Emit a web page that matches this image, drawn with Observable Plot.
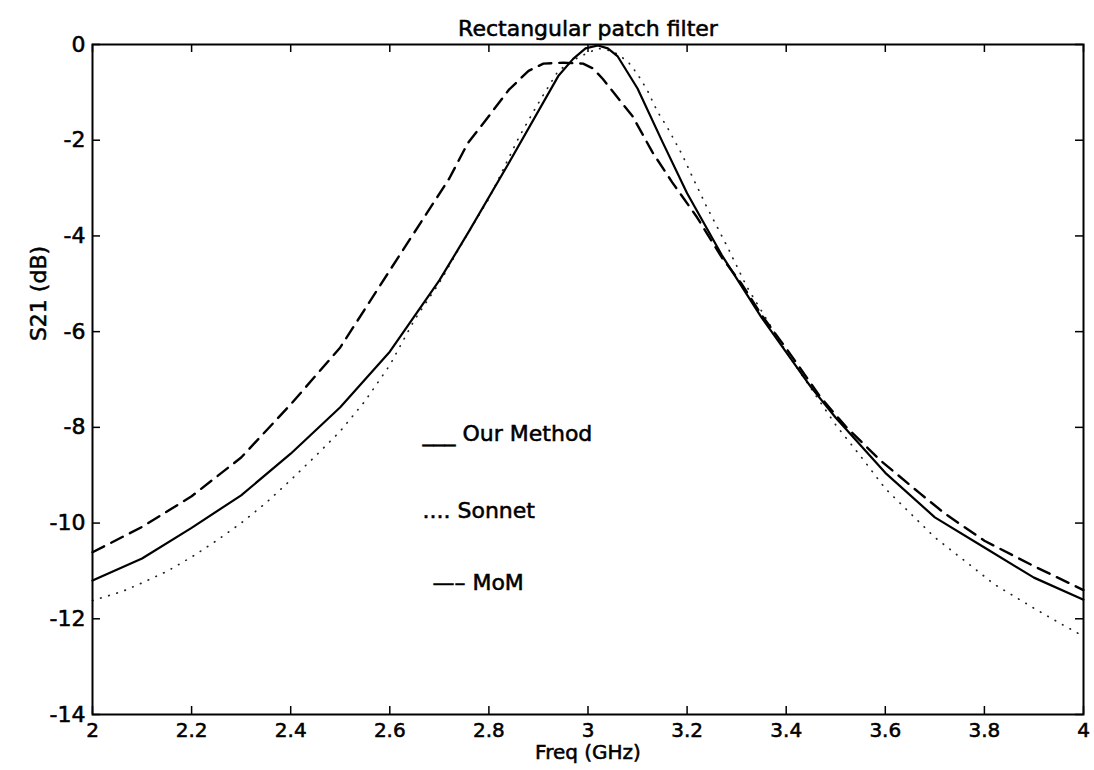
<!DOCTYPE html>
<html><head><meta charset="utf-8">
<script src="https://cdn.jsdelivr.net/npm/d3@7"></script>
<script src="https://cdn.jsdelivr.net/npm/@observablehq/plot@0.6"></script>
<style>
body{margin:0;background:#fff;}
#chart svg text{stroke:#000;stroke-width:0.55px;}
</style></head><body><div id="chart"></div>
<script>
// Our Method (solid)
const ourFreq = [2.0,2.1,2.2,2.3,2.4,2.5,2.6,2.7,2.76,2.84,2.94,2.97,2.995,3.02,3.04,3.06,3.1,3.15,3.2,3.27,3.35,3.45,3.5,3.6,3.7,3.8,3.9,4.0];
const ourS21  = [-11.2,-10.74,-10.1,-9.42,-8.55,-7.58,-6.42,-4.93,-3.9,-2.48,-0.66,-0.3,-0.08,-0.02,-0.08,-0.25,-0.92,-2.03,-3.11,-4.4,-5.7,-7.16,-7.8,-8.95,-9.88,-10.51,-11.14,-11.6];
// Sonnet (dotted)
const sonFreq = [2.0,2.06,2.1,2.15,2.2,2.25,2.3,2.35,2.4,2.45,2.5,2.55,2.6,2.65,2.7,2.75,2.8,2.86,2.89,2.91,2.94,2.98,3.02,3.05,3.08,3.1,3.12,3.14,3.16,3.19,3.21,3.24,3.28,3.32,3.4,3.5,3.55,3.6,3.7,3.78,3.82,3.9,3.94,3.99];
const sonS21  = [-11.62,-11.43,-11.25,-11.01,-10.71,-10.37,-10.0,-9.58,-9.1,-8.6,-8.08,-7.45,-6.7,-5.75,-4.98,-4.08,-3.22,-1.95,-1.4,-1.05,-0.55,-0.27,-0.08,-0.14,-0.35,-0.62,-0.96,-1.4,-1.73,-2.3,-2.75,-3.4,-4.2,-5.05,-6.42,-7.95,-8.6,-9.28,-10.3,-10.95,-11.28,-11.78,-12.02,-12.31];
// MoM (dashed)
const momFreq = [2.0,2.1,2.2,2.3,2.4,2.5,2.6,2.67,2.72,2.757,2.79,2.84,2.88,2.91,2.95,2.99,3.01,3.03,3.09,3.13,3.17,3.22,3.27,3.31,3.35,3.4,3.47,3.52,3.59,3.67,3.72,3.8,3.9,4.0];
const momS21  = [-10.61,-10.08,-9.44,-8.63,-7.52,-6.33,-4.72,-3.6,-2.8,-2.07,-1.63,-0.95,-0.55,-0.4,-0.38,-0.4,-0.5,-0.72,-1.5,-2.25,-2.88,-3.61,-4.45,-5.0,-5.65,-6.35,-7.38,-7.98,-8.69,-9.38,-9.8,-10.37,-10.9,-11.4];

const xTicks = [2,2.2,2.4,2.6,2.8,3,3.2,3.4,3.6,3.8,4];
const yTicks = [0,-2,-4,-6,-8,-10,-12,-14];

const legendLabels = ["___ Our Method", ".... Sonnet", "\u2014\u2013 MoM"];
const legendFreq = [2.666, 2.666, 2.686];
const legendS21 = [-8.13, -9.74, -11.26];

const title = "Rectangular patch filter";
const xLabel = "Freq (GHz)";
const yLabel = "S21 (dB)";

const toRows = (fs, vs) => fs.map((f, i) => ({f, v: vs[i]}));
const ours = toRows(ourFreq, ourS21);
const sonnet = toRows(sonFreq, sonS21);
const mom = toRows(momFreq, momS21);
const legend = legendLabels.map((t, i) => ({t, f: legendFreq[i], v: legendS21[i]}));

const chart = Plot.plot({
  width: 1094, height: 770,
  marginLeft: 92, marginRight: 11, marginTop: 44, marginBottom: 56,
  x: {domain: [2, 4]},
  y: {domain: [-14, 0]},
  style: {fontFamily: "'DejaVu Sans'", fontSize: "22px", color: "#000", background: "#fff", overflow: "visible"},
  marks: [
    Plot.line(sonnet, {x: "f", y: "v", stroke: "#222", strokeWidth: 1.7, strokeDasharray: "0.5 8", strokeLinecap: "round"}),
    Plot.line(mom, {x: "f", y: "v", stroke: "#000", strokeWidth: 2.4, strokeDasharray: "13 8"}),
    Plot.line(ours, {x: "f", y: "v", stroke: "#000", strokeWidth: 2.2}),
    Plot.frame({stroke: "#000", strokeWidth: 2}),
    Plot.tickX(xTicks, {x: d => d, insetTop: 662, stroke: "#000", strokeWidth: 1.5}),
    Plot.tickX(xTicks, {x: d => d, insetBottom: 662, stroke: "#000", strokeWidth: 1.5}),
    Plot.tickY(yTicks, {y: d => d, insetRight: 983, stroke: "#000", strokeWidth: 1.5}),
    Plot.tickY(yTicks, {y: d => d, insetLeft: 983, stroke: "#000", strokeWidth: 1.5}),
    Plot.axisX({ticks: xTicks, anchor: "bottom", tickSize: 0, tickPadding: 8, fontSize: 20, tickFormat: d => String(d), label: null}),
    Plot.axisY({ticks: yTicks, anchor: "left", tickSize: 0, tickPadding: 7, tickFormat: d => String(d), label: null}),
    Plot.text(legend, {x: "f", y: "v", text: "t", textAnchor: "start", fill: "#000"}),
    Plot.text([title], {frameAnchor: "top", dy: -24, fill: "#000"}),
    Plot.text([xLabel], {frameAnchor: "bottom", dy: 44, fontSize: 20, fill: "#000"}),
    Plot.text([yLabel], {frameAnchor: "top-left", dx: -62, dy: 249, rotate: -90, textAnchor: "middle", fill: "#000"})
  ]
});
document.getElementById("chart").appendChild(chart);
</script></body></html>
